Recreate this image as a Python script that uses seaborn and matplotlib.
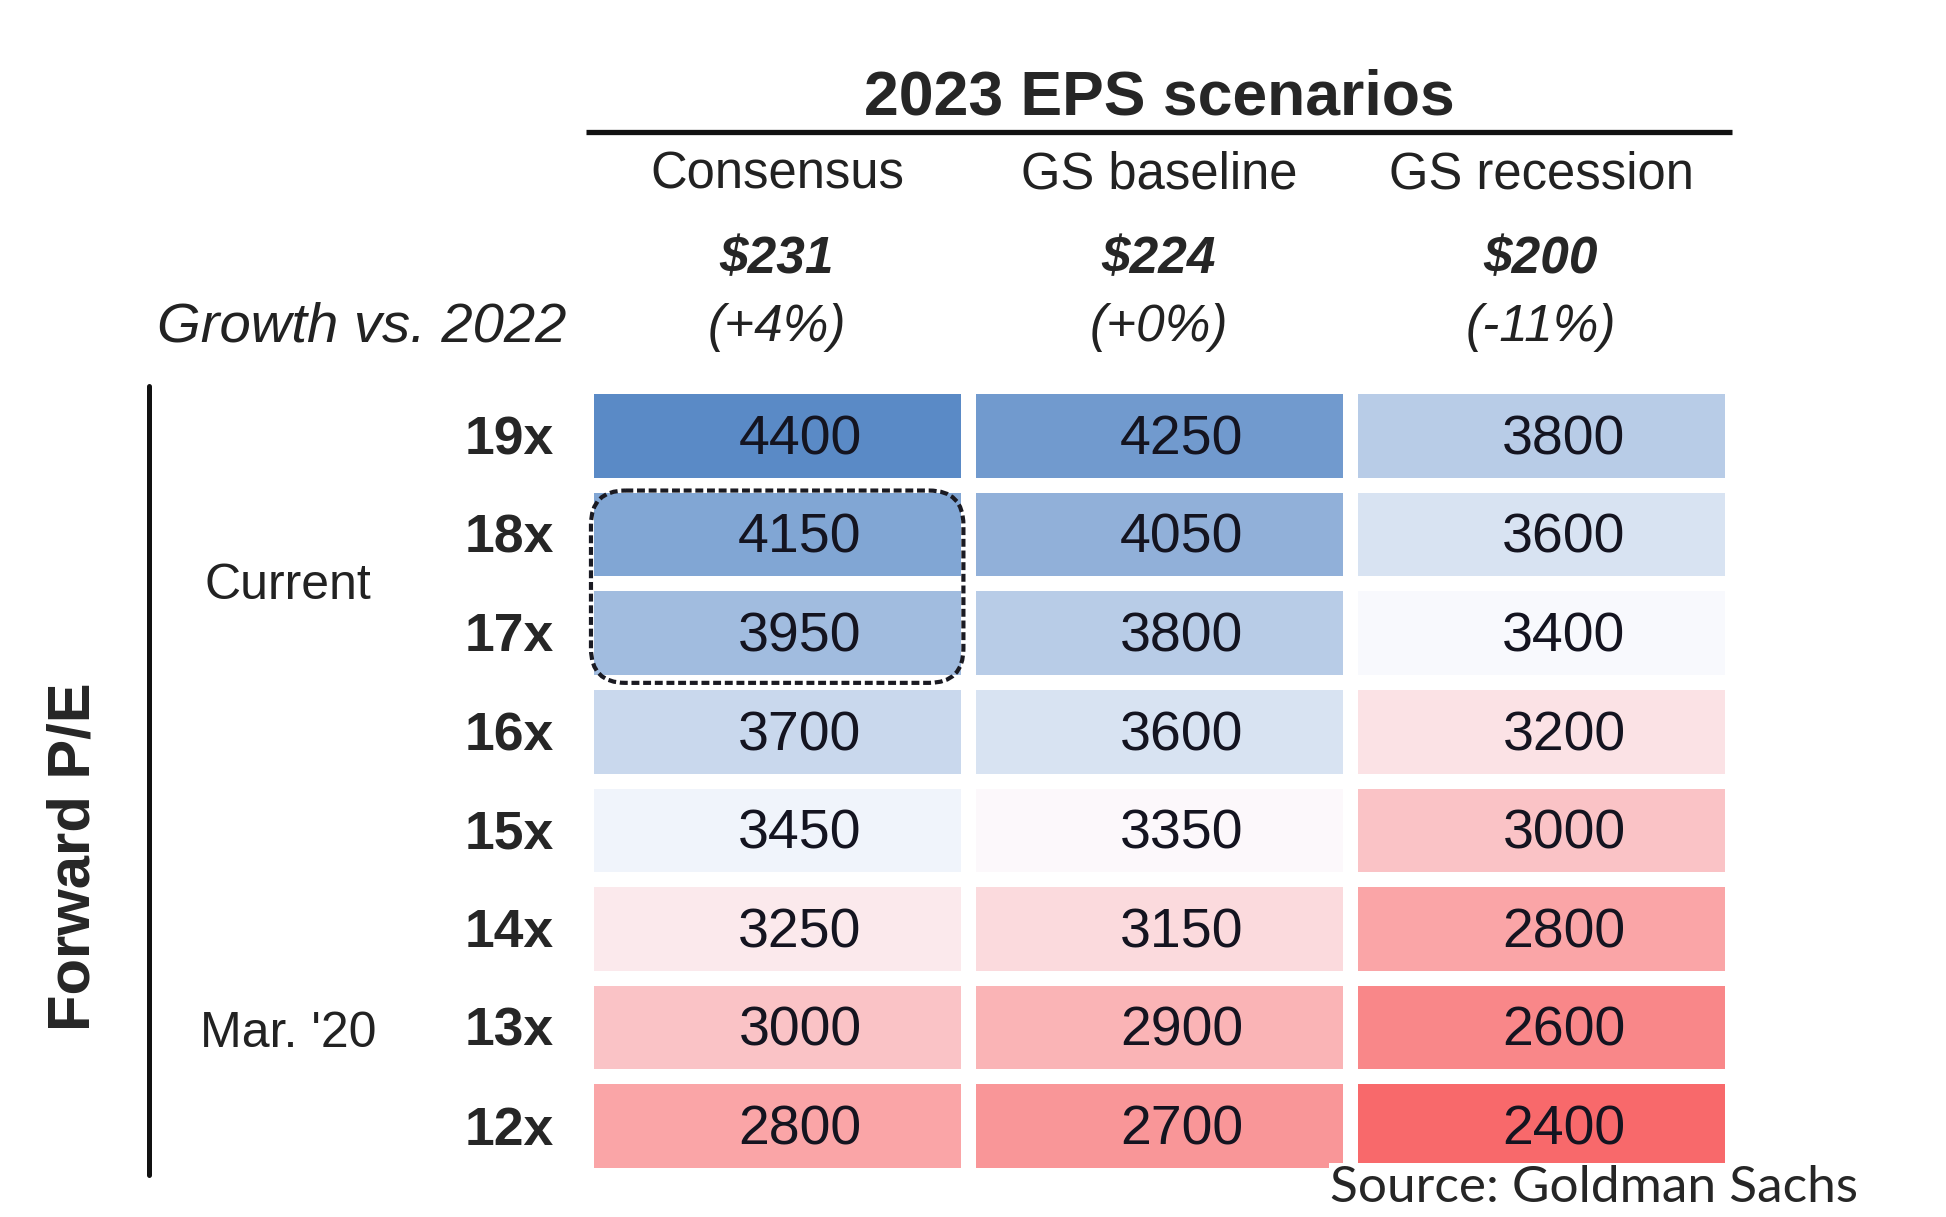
import seaborn as sns
from matplotlib import pyplot as plt
from matplotlib.colors import LinearSegmentedColormap, TwoSlopeNorm
from matplotlib.patches import FancyBboxPatch
import numpy as np
import pandas as pd

scenarios = ['Consensus', 'GS baseline', 'GS recession']
eps = ['$231', '$224', '$200']
growth = ['(+4%)', '(+0%)', '(-11%)']
multiples = ['19x', '18x', '17x', '16x', '15x', '14x', '13x', '12x']
consensus = [4400, 4150, 3950, 3700, 3450, 3250, 3000, 2800]
gs_baseline = [4250, 4050, 3800, 3600, 3350, 3150, 2900, 2700]
gs_recession = [3800, 3600, 3400, 3200, 3000, 2800, 2600, 2400]

df = pd.DataFrame({'Consensus': consensus, 'GS baseline': gs_baseline,
                   'GS recession': gs_recession}, index=multiples)

sns.set_style('white')
plt.rcParams['font.family'] = ['Liberation Sans', 'DejaVu Sans']

fig = plt.figure(figsize=(19.46, 12.17), dpi=100)
ax = fig.add_axes([586 / 1946, 1 - 1175 / 1217, 1146 / 1946, 789 / 1217])

cmap = LinearSegmentedColormap.from_list('gs', ['#F8696B', '#FCFCFF', '#5A8AC6'])
norm = TwoSlopeNorm(vmin=2400, vcenter=3375, vmax=4400)
sns.heatmap(df, ax=ax, cmap=cmap, norm=norm, cbar=False, annot=False,
            linewidths=9.6, linecolor='white', xticklabels=False, yticklabels=False)

dy = 0.05  # small downward nudge so glyphs sit like the original

# cell values (set slightly right of centre like the original)
for j, col in enumerate(df.columns):
    for i, v in enumerate(df[col]):
        ax.text(j + 0.56, i + 0.5 + dy, f'{v}', ha='center', va='center',
                fontsize=40, color='#141420')

# row labels
for i, m in enumerate(multiples):
    ax.text(-0.085, i + 0.5 + dy, m, ha='right', va='center', fontsize=38.5,
            fontweight='bold', clip_on=False)

# column headers
ax.text(1.5, -2.97 + dy, '2023 EPS scenarios', ha='center', va='center',
        fontsize=45, fontweight='bold', clip_on=False)
ax.plot([0, 3], [-2.58, -2.58], color='#111111', lw=3.8, clip_on=False,
        solid_capstyle='butt')
for j, name in enumerate(scenarios):
    ax.text(j + 0.5, -2.19 + dy, name, ha='center', va='center', fontsize=36.5,
            color='#222222', clip_on=False)
    ax.text(j + 0.5, -1.335 + dy, eps[j], ha='center', va='center', fontsize=37,
            fontweight='bold', fontstyle='italic', clip_on=False)
    ax.text(j + 0.5, -0.64 + dy, growth[j], ha='center', va='center', fontsize=37,
            fontstyle='italic', color='#222222', clip_on=False)
ax.text(-0.052, -0.64 + dy, 'Growth vs. 2022', ha='right', va='center',
        fontsize=40.5, fontstyle='italic', color='#222222', clip_on=False)

# left side annotations
ax.plot([-1.144, -1.144], [0, 8], color='#111111', lw=3.6, clip_on=False)
ax.text(-1.34, 4.77, 'Forward P/E', ha='center', va='center', rotation=90,
        fontsize=43, fontweight='bold', clip_on=False)
ax.text(-0.78, 1.98 + dy, 'Current', ha='center', va='center', fontsize=36,
        color='#222222', clip_on=False)
ax.text(-0.78, 6.52 + dy, "Mar. '20", ha='center', va='center', fontsize=36,
        color='#222222', clip_on=False)

# dashed box around current multiples
box = FancyBboxPatch((0.013, 1.06), 0.975, 1.95, boxstyle='round,pad=0,rounding_size=0.09',
                     mutation_aspect=382 / 98.6, fill=False,
                     edgecolor='#1a1a22', lw=3.0, ls=(0, (1.9, 0.9)), clip_on=False)
ax.add_patch(box)

ax.text(1.948, 8.13, 'Source: Goldman Sachs', ha='left', va='center', fontsize=37,
        family=['Lato', 'DejaVu Sans'], clip_on=False,
        bbox=dict(facecolor='white', edgecolor='none', pad=1))

fig.savefig('out.png', dpi=100)
